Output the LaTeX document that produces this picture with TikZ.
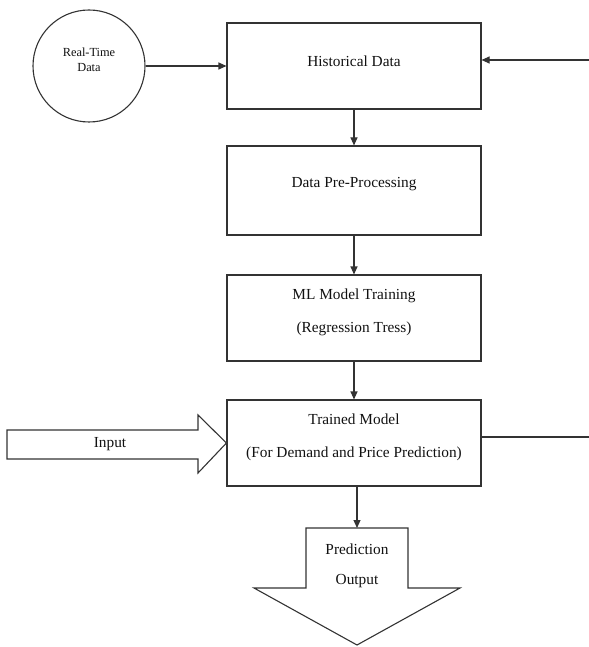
\documentclass[tikz,border=0pt]{standalone}
\usepackage{fontspec}
\setmainfont{Liberation Serif}
\usetikzlibrary{arrows.meta}
\definecolor{ln}{HTML}{333333}
\definecolor{tx}{HTML}{111111}
\tikzset{
  box/.style={draw=ln, line width=1.1bp, minimum width=254bp, inner sep=0pt},
  txt/.style={text=tx, font=\fontsize{15.4}{33}\selectfont, align=center, inner sep=0pt},
  smalltxt/.style={text=tx, font=\fontsize{12.4}{15}\selectfont, align=center, inner sep=0pt},
  arr/.style={draw=ln, line width=1.1bp, -{Triangle[length=8bp,width=7bp]}},
  plain/.style={draw=ln, line width=1.1bp},
  blockarrow/.style={draw=ln, line width=1.1bp, fill=white, line join=miter}
}
\begin{document}
\begin{tikzpicture}[x=1bp,y=-1bp]
\useasboundingbox (0,0) rectangle (589,647);
% circle
\node[draw=ln, line width=1.1bp, circle, minimum size=112bp, inner sep=0pt] (rt) at (89,66) {};
\node[smalltxt] (rtt) at (89,60) {Real-Time\\Data};
% boxes
\node[box, minimum height=86bp] (b1) at (354,66) {};
\node[txt] (b1t) at (354,61) {Historical Data};
\node[box, minimum height=89bp] (b2) at (354,190.5) {};
\node[txt] (b2t) at (354,184) {Data Pre-Processing};
\node[box, minimum height=86bp] (b3) at (354,318) {};
\node[txt] (b3t) at (354,312) {ML Model Training\\(Regression Tress)};
\node[box, minimum height=86bp] (b4) at (354,443) {};
\node[txt] (b4t) at (354,437) {Trained Model\\(For Demand and Price Prediction)};
% connectors
\draw[arr] (rt.east) -- (rt.east -| b1.west);
\coordinate (in1) at (589,60);
\draw[arr] (in1) -- (in1 -| b1.east);
\draw[arr] (b1.south) -- (b2.north);
\draw[arr] (b2.south) -- (b3.north);
\draw[arr] (b3.south) -- (b4.north);
\coordinate (out1) at (589,437);
\draw[plain] (out1 -| b4.east) -- (out1);
% input block arrow
\draw[blockarrow] (7,430) -- (198,430) -- (198,415) -- (b4.west) -- (198,473) -- (198,459) -- (7,459) -- cycle;
\node[txt] (inp) at (110,444) {Input};
% prediction output block arrow
\coordinate (po) at (357,528);
\draw[blockarrow] (306,528) -- (408,528) -- (408,588) -- (460,588) -- (357,645) -- (254,588) -- (306,588) -- cycle;
\draw[arr] (b4.south -| po) -- (po);
\node[txt, font=\fontsize{15.4}{30}\selectfont] (pot) at (357,566) {Prediction\\Output};
\end{tikzpicture}
\end{document}
